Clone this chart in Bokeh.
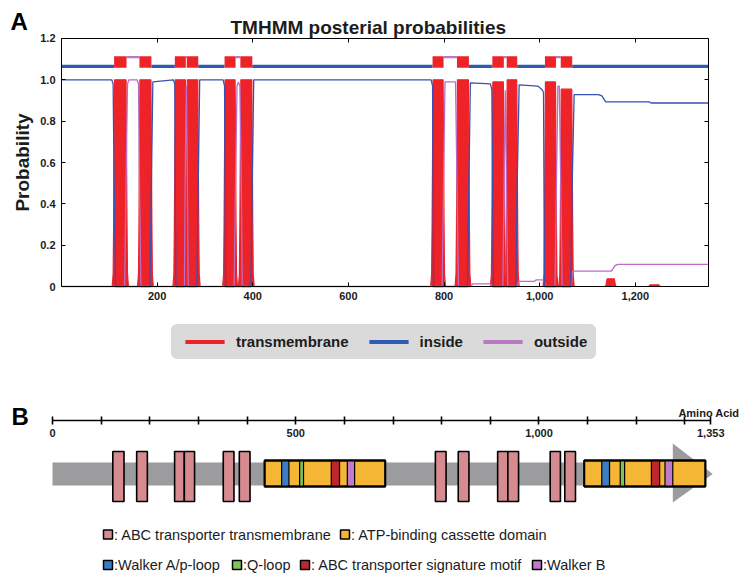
from bokeh.plotting import figure
from bokeh.models import (Range1d, LinearAxis, FixedTicker, NumeralTickFormatter, Legend,
                          LegendItem, Label)
from bokeh.layouts import column
from bokeh.embed import file_html
from bokeh.resources import INLINE
from bokeh.core.properties import value

FONT = "Liberation Sans"
TXT = "#1c1c1c"

# ---------------- Panel A data (TMHMM posterior probabilities) ----------------
seq_len = 1353
tm_start = [110, 163, 237, 262, 341, 374, 776, 827, 901, 931, 1011, 1044]
tm_end = [136, 188, 260, 286, 364, 399, 799, 852, 925, 953, 1034, 1068]
tm_peak = [1.0, 1.0, 1.0, 1.0, 1.0, 1.0, 1.0, 1.0, 0.99, 1.0, 0.99, 0.955]
minor_tm_start = [1140, 1230]
minor_tm_end = [1157, 1250]
minor_tm_peak = [0.037, 0.008]

inside_start = [0, 188, 286, 399, 852, 953, 1068]
inside_end = [110, 237, 341, 776, 901, 1011, 1353]
outside_start = [136, 260, 364, 799, 925, 1034]
outside_end = [163, 262, 374, 827, 931, 1044]

inside_curve = [(1, 1.0), (105, 1.0), (108, 0.98), (110, 0.5), (113, 0.0), (185, 0.0), (188, 0.5),
                (191, 0.99), (234, 1.0), (237, 0.98), (239, 0.0), (283, 0.0), (286, 0.5), (289, 1.0),
                (338, 1.0), (341, 0.97), (343, 0.0), (396, 0.0), (399, 0.5), (402, 1.0), (773, 1.0),
                (776, 0.97), (778, 0.0), (849, 0.0), (852, 0.5), (855, 0.985), (897, 0.98), (900, 0.95),
                (903, 0.0), (950, 0.0), (953, 0.5), (957, 0.976), (996, 0.97), (1004, 0.955),
                (1008, 0.94), (1010, 0.0), (1065, 0.0), (1068, 0.5), (1072, 0.928), (1123, 0.928),
                (1130, 0.922), (1138, 0.893), (1229, 0.893), (1233, 0.888), (1353, 0.888)]

outside_curve = [(1, 0.0), (132, 0.0), (135, 0.5), (138, 0.98), (141, 1.0), (158, 1.0), (161, 0.98),
                 (163, 0.5), (166, 0.0), (257, 0.0), (259, 0.6), (261, 0.97), (263, 0.6), (265, 0.0),
                 (361, 0.0), (364, 0.5), (367, 0.97), (370, 0.99), (373, 0.97), (376, 0.5), (378, 0.0),
                 (796, 0.0), (799, 0.5), (802, 0.99), (824, 0.99), (827, 0.5), (830, 0.0), (856, 0.0),
                 (860, 0.013), (897, 0.013), (901, 0.0), (923, 0.0), (926, 0.6), (928, 0.95),
                 (930, 0.6), (933, 0.0), (953, 0.0), (956, 0.025), (989, 0.025), (993, 0.032),
                 (1009, 0.032), (1012, 0.0), (1032, 0.0), (1035, 0.5), (1038, 0.97), (1041, 0.97),
                 (1044, 0.5), (1047, 0.0), (1066, 0.0), (1069, 0.074), (1150, 0.074), (1157, 0.1),
                 (1163, 0.107), (1353, 0.107)]

y_ticks = [0, 0.2, 0.4, 0.6, 0.8, 1.0, 1.2]
y_tick_labels = {0: "0", 1: "1.0"}
x_ticks = [200, 400, 600, 800, 1000, 1200]

# ---------------- Panel B data (domain architecture) ----------------
protein_length = 1353
ruler_ticks = [0, 100, 200, 300, 400, 500, 600, 700, 800, 900, 1000, 1100, 1200, 1300, 1353]
ruler_labels = {0: "0", 500: "500", 1000: "1,000", 1353: "1,353"}
tm_box_start = [124, 173, 251, 271, 351, 384, 787, 834, 915, 936, 1023, 1053]
tm_box_end = [147, 195, 271, 292, 373, 406, 809, 856, 936, 958, 1044, 1075]
abc_start = [436, 1093]
abc_end = [684, 1342]
walker_a_start = [471, 1129]
walker_a_end = [486, 1145]
q_loop_start = [508, 1167]
q_loop_end = [516, 1176]
signature_start = [573, 1231]
signature_end = [590, 1248]
walker_b_start = [606, 1259]
walker_b_end = [621, 1275]

legend_b_line1 = [": ABC transporter transmembrane", ": ATP-binding cassette domain"]
legend_b_line2 = [":Walker A/p-loop", ":Q-loop", ": ABC transporter signature motif", ":Walker B"]

# colours
RED = "#ED2328"
BLUE_TOP = "#2F5BB5"
BLUE = "#3650B4"
PURPLE_TOP = "#B97AC4"
PURPLE = "#BC6CC6"
C_TM = "#D68B91"
C_ABC = "#F5B535"
C_WA = "#3B7CC3"
C_Q = "#7CC35B"
C_SIG = "#C0272D"
C_WB = "#C07BCB"
C_GRAY = "#9C9C9E"
LEG_BG = "#DADADA"

W = 748
HA = 378
HB = 204

# ======================= Panel A =======================
pA = figure(width=W, height=HA, x_range=Range1d(-127.56, 1436.65), y_range=Range1d(-0.44516, 1.38387),
            x_axis_type=None, y_axis_type=None,
            output_backend="svg", toolbar_location=None,
            min_border_left=0, min_border_right=0, min_border_top=0, min_border_bottom=0)
pA.outline_line_color = None
pA.background_fill_color = "white"

xs, ys = [], []
for s, e, pk in zip(tm_start + minor_tm_start, tm_end + minor_tm_end, tm_peak + minor_tm_peak):
    xs.append([s - 4, s - 2, s - 1, s + 1, e - 1, e + 1, e + 2, e + 4])
    ys.append([0, 0.06 * pk, 0.3 * pk, pk, pk, 0.3 * pk, 0.06 * pk, 0])
pA.patches(xs, ys, fill_color=RED, line_color=RED, line_width=1.2)

pA.line([p[0] for p in outside_curve], [p[1] for p in outside_curve], color=PURPLE, line_width=1.3)
pA.line([p[0] for p in inside_curve], [p[1] for p in inside_curve], color=BLUE, line_width=1.3)

r_in = pA.quad(left=inside_start, right=inside_end, bottom=1.0575, top=1.0725,
               fill_color=BLUE_TOP, line_color=None)
r_out = pA.quad(left=outside_start, right=outside_end, bottom=1.105, top=1.115,
                fill_color=PURPLE_TOP, line_color=None)
r_tm = pA.quad(left=tm_start, right=tm_end, bottom=1.0585, top=1.1146,
               fill_color=RED, line_color=None)


def style_axis(ax, labels=True):
    ax.major_tick_in = 4
    ax.major_tick_out = 0
    ax.minor_tick_line_color = None
    ax.axis_line_color = "black"
    ax.major_tick_line_color = "black"
    ax.major_label_text_font = FONT
    ax.major_label_text_font_style = "bold"
    ax.major_label_text_font_size = "11px"
    ax.major_label_text_color = TXT if labels else None


xa = LinearAxis(ticker=FixedTicker(ticks=x_ticks), formatter=NumeralTickFormatter(format="0,0"),
                fixed_location=0, bounds=(0, seq_len), major_label_standoff=5)
style_axis(xa)
pA.add_layout(xa, "below")

ya = LinearAxis(ticker=FixedTicker(ticks=y_ticks), fixed_location=0, bounds=(0, 1.2),
                major_label_overrides=y_tick_labels, major_label_standoff=6,
                axis_label="Probability", axis_label_text_font=FONT,
                axis_label_text_font_style="bold", axis_label_text_font_size="19px",
                axis_label_text_color=TXT, axis_label_standoff=4)
style_axis(ya)
pA.add_layout(ya, "left")

ta = LinearAxis(ticker=FixedTicker(ticks=x_ticks), fixed_location=1.2, bounds=(0, seq_len))
style_axis(ta, labels=False)
pA.add_layout(ta, "above")

ra = LinearAxis(ticker=FixedTicker(ticks=y_ticks), fixed_location=seq_len, bounds=(0, 1.2))
style_axis(ra, labels=False)
pA.add_layout(ra, "right")

pA.add_layout(Label(x=230, y=HA - 27, x_units="screen", y_units="screen",
                    text="TMHMM posterial probabilities", text_font=FONT, text_font_style="bold",
                    text_font_size="19px", text_color=TXT, text_baseline="alphabetic"))
pA.add_layout(Label(x=10, y=HA - 21, x_units="screen", y_units="screen", text="A",
                    text_font=FONT, text_font_style="bold", text_font_size="24px",
                    text_color="black", text_baseline="alphabetic"))

legA = Legend(items=[LegendItem(label="transmembrane", renderers=[r_tm]),
                     LegendItem(label="inside", renderers=[r_in]),
                     LegendItem(label="outside", renderers=[r_out])],
              orientation="horizontal", location=(171, HA - 359),
              background_fill_color=LEG_BG, background_fill_alpha=1.0,
              border_line_color=LEG_BG, border_line_width=1,
              label_text_font=FONT, label_text_font_style="bold",
              label_text_font_size="15px", label_text_color=TXT,
              glyph_width=49, glyph_height=5, padding=8, spacing=15, label_standoff=7,
              label_height=12, margin=0)
if "border_radius" in Legend.properties():
    legA.border_radius = 6
pA.add_layout(legA)

# ======================= Panel B =======================
B_TOP, B_BOT = HA, HA + HB
pB = figure(width=W, height=HB,
            x_range=Range1d(-106.88, 1430.63), y_range=Range1d(B_BOT, B_TOP),
            x_axis_type=None, y_axis_type=None,
            output_backend="svg", toolbar_location=None,
            min_border_left=0, min_border_right=0, min_border_top=0, min_border_bottom=0)
pB.outline_line_color = None
pB.extra_x_ranges = {"px": Range1d(0, W)}

ruler = LinearAxis(ticker=FixedTicker(ticks=ruler_ticks), fixed_location=420,
                   bounds=(0, protein_length),
                   major_label_overrides={t: ruler_labels.get(t, "") for t in ruler_ticks},
                   major_tick_in=4, major_tick_out=4, minor_tick_line_color=None,
                   axis_line_width=1.6, major_tick_line_width=1.6,
                   major_label_standoff=4, major_label_text_font=FONT,
                   major_label_text_font_style="bold", major_label_text_font_size="11px",
                   major_label_text_color=TXT)
pB.add_layout(ruler, "below")

pB.quad(left=[0], right=[1275], top=462, bottom=485, fill_color=C_GRAY, line_color=None)
pB.patch([1275, 1357, 1275], [443, 473.5, 502], fill_color=C_GRAY, line_color=None)

pB.quad(left=abc_start, right=abc_end, top=460, bottom=486, fill_color=C_ABC,
        line_color="black", line_width=1.8)
for st, en, col in ((walker_a_start, walker_a_end, C_WA), (q_loop_start, q_loop_end, C_Q),
                    (signature_start, signature_end, C_SIG), (walker_b_start, walker_b_end, C_WB)):
    pB.quad(left=st, right=en, top=460, bottom=486, fill_color=col, line_color="black", line_width=1.2)
pB.quad(left=abc_start, right=abc_end, top=460, bottom=486, fill_color=None,
        line_color="black", line_width=1.8)

pB.quad(left=tm_box_start, right=tm_box_end, top=451, bottom=501, fill_color=C_TM,
        line_color="black", line_width=1.6)

pB.add_layout(Label(x=739, y=412, x_range_name="px", text="Amino Acid", text_align="right",
                    text_baseline="alphabetic", text_font=FONT, text_font_style="bold",
                    text_font_size="11px", text_color=TXT))
pB.add_layout(Label(x=11, y=416, x_range_name="px", text="B", text_baseline="alphabetic",
                    text_font=FONT, text_font_style="bold", text_font_size="24px", text_color="black"))

sq_x = [103, 340, 103, 232, 300, 532]
sq_y = [534, 534, 564.5, 564.5, 564.5, 564.5]
sq_c = [C_TM, C_ABC, C_WA, C_Q, C_SIG, C_WB]
sq_t = legend_b_line1 + legend_b_line2
pB.rect(x=[v + 4.5 for v in sq_x], y=sq_y, width=9, height=9, x_range_name="px",
        fill_color=sq_c, line_color="black", line_width=1.5)
pB.text(x=[v + 10.5 for v in sq_x], y=sq_y, text=sq_t, x_range_name="px",
        text_font=value(FONT), text_font_size="14.5px", text_baseline="middle",
        text_color=TXT)

layout = column(pA, pB, spacing=0)
open("out.html", "w").write(file_html(layout, INLINE))
